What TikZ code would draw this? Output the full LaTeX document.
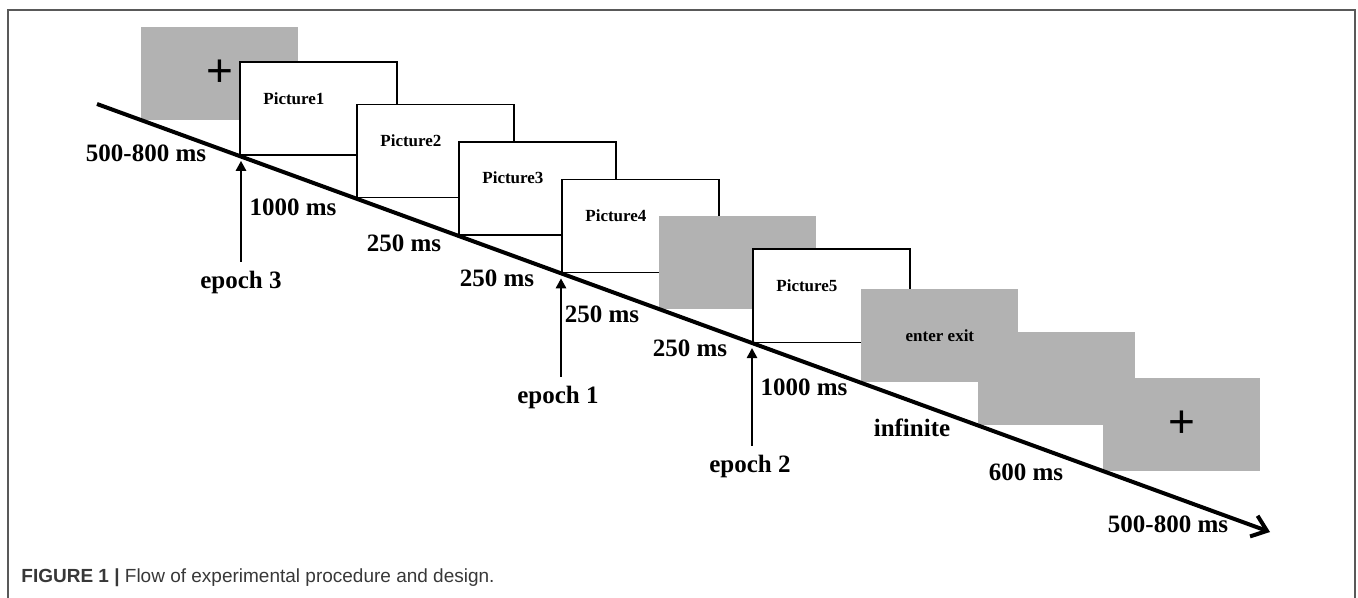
\documentclass[tikz,border=0pt]{standalone}
\usepackage{fontspec}
\setmainfont{Liberation Serif}
\newfontfamily\pies{Liberation Sans}
\usetikzlibrary{arrows.meta, calc}
\definecolor{grispantalla}{gray}{0.70}
\definecolor{marco}{gray}{0.35}
\definecolor{textopie}{gray}{0.22}
\tikzset{
    pantalla/.style={rectangle, draw=black, line width=0.75pt, fill=white, inner sep=0pt,
        minimum width=78.5pt, minimum height=46.5pt, anchor=south west},
    pantallagris/.style={rectangle, fill=grispantalla, inner sep=0pt,
        minimum width=78.5pt, minimum height=46.5pt, anchor=south west,
        font=\bfseries\fontsize{8.5}{10}\selectfont},
    rotulo/.style={font=\bfseries\fontsize{8.5}{10}\selectfont, anchor=west, inner sep=0pt},
    etiqueta/.style={font=\bfseries\fontsize{12.5}{14}\selectfont},
    cruz/.style={font=\pies\fontsize{23}{23}\selectfont, text height=1.3em, text depth=0pt},
    tiempo/.style={line width=2pt, -{Straight Barb[length=7pt, width=11pt]}},
    epoca/.style={line width=1.25pt, -{Triangle[length=5pt, width=5pt]},
        shorten >=2.5pt, shorten <=1pt}}
\begin{document}
\begin{tikzpicture}[x=0.5pt, y=-0.5pt]
    \useasboundingbox (0,0) rectangle (1358,598);
    \draw[draw=marco, line width=1pt] (8,598) -- (8,10) -- (1355,10) -- (1355,598);

    % pantallas, esquina inferior izquierda sobre la linea de tiempo
    \node[pantallagris, cruz] (f1) at (141,120) {+};
    \node[pantalla] (p1) at (239,155.8) {};
    \node[pantalla] (p2) at (356,198.5) {};
    \node[pantalla] (p3) at (458,235.7) {};
    \node[pantalla] (p4) at (561,273.3) {};
    \node[pantallagris] (g1) at (659,309.1) {};
    \node[pantalla] (p5) at (752,343) {};
    \node[pantallagris] (g2) at (861,382.8) {enter exit};
    \node[pantallagris] (g3) at (978,425.5) {};
    \node[pantallagris, cruz] (f2) at (1103,471.1) {+};

    \foreach \i in {1,...,5}
        \node[rotulo] (r\i) at ($(p\i.north west)+(24,37)$) {Picture\i};

    \coordinate (inicio) at (97,104);
    \coordinate (fin) at (1270,532);
    \draw[tiempo] (inicio) -- (fin);

    \foreach \x/\y/\t [count=\i] in {146/153/500-800 ms, 293/207/1000 ms, 404/243/250 ms,
            497/278/250 ms, 602/314/250 ms, 690/348/250 ms, 804/387/1000 ms,
            912/428/infinite, 1026/472/600 ms, 1168/524/500-800 ms}
        \node[etiqueta] (d\i) at (\x,\y) {\t};

    \node[etiqueta] (ep3) at (241,282) {epoch 3};
    \node[etiqueta] (ep1) at (558,397) {epoch 1};
    \node[etiqueta] (ep2) at (750,466) {epoch 2};
    \draw[epoca] (ep3.north) -- (ep3.north |- p1.south west);
    \draw[epoca] (ep1.north -| p4.south west) -- (p4.south west);
    \draw[epoca] (ep2.north -| p5.south west) -- (p5.south west);

    \node[anchor=west, inner sep=0pt, text=textopie, font=\pies\fontsize{9.5}{11}\selectfont]
        (pie) at (21,578) {\textbf{FIGURE 1 |} Flow of experimental procedure and design.};
\end{tikzpicture}
\end{document}
